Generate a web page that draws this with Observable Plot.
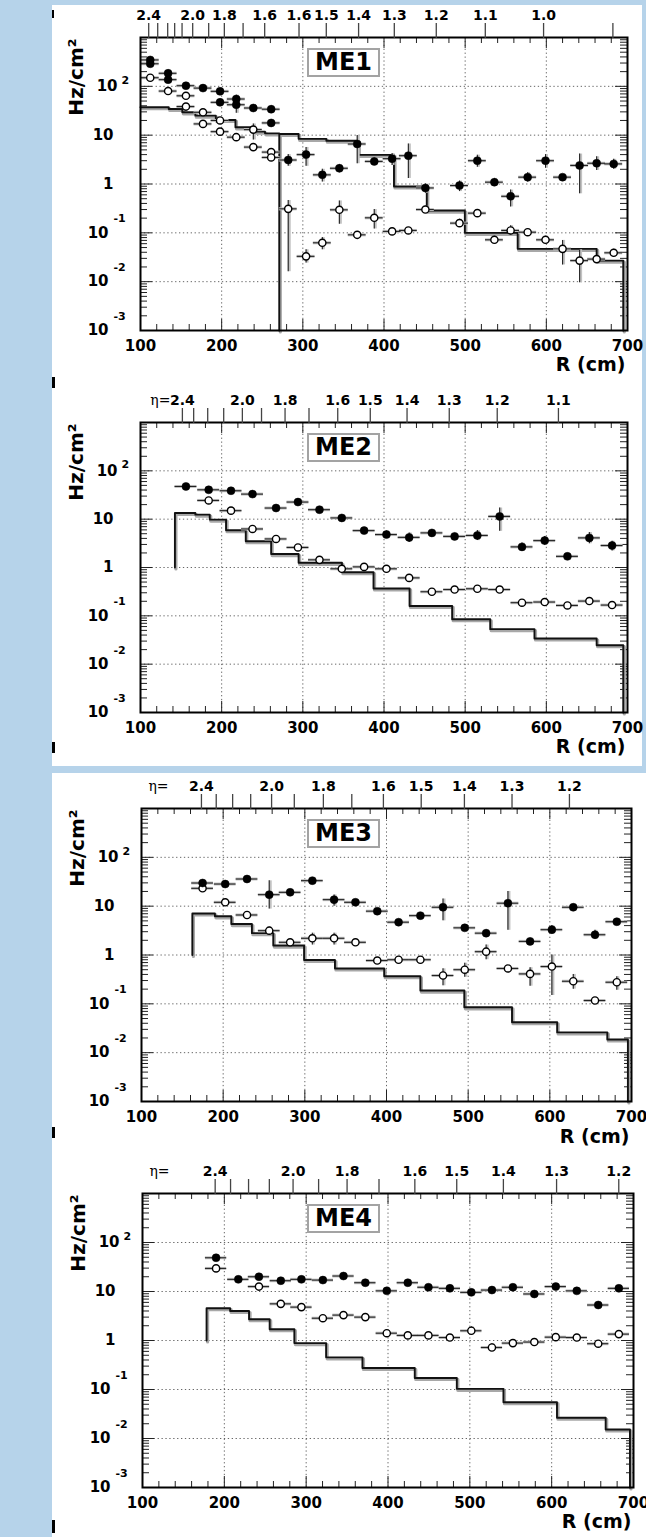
<!DOCTYPE html>
<html><head><meta charset="utf-8">
<script src="https://cdn.jsdelivr.net/npm/d3@7"></script>
<script src="https://cdn.jsdelivr.net/npm/@observablehq/plot@0.6"></script>
<style>
body{margin:0;background:#b6d3ea;}
#page{position:relative;width:646px;height:1537px;overflow:hidden;background:#b6d3ea;font-family:"DejaVu Sans",sans-serif;}
.sheet{position:absolute;background:#fff;}
.panel{position:absolute;left:52px;}
.panel svg{overflow:visible;}
.melab{position:absolute;box-sizing:border-box;border:2px solid #a3a3a3;background:#fff;font:bold 24px "DejaVu Sans",sans-serif;color:#000;text-align:center;line-height:25px;width:73px;height:29px;}
.scr{position:absolute;left:52px;background:#000;width:3px;}
</style></head>
<body><div id="page">
<div class="sheet" style="left:52px;top:5px;width:590px;height:761px"></div>
<div class="sheet" style="left:52px;top:773px;width:594px;height:764px"></div>
<div class="scr" style="top:10px;height:8px;width:2px"></div>
<div class="scr" style="top:377px;height:11px"></div>
<div class="scr" style="top:742px;height:11px"></div>
<div class="scr" style="top:1127px;height:11px"></div>
<div class="scr" style="top:1520px;height:13px"></div>
</div>
<script>
// ===================== DATA =====================
// ---- ME1 ----
const me1FilledR  = [112,112,134,134,156,177,198,198,218,218,239,261,261,282,304,324,345,367,388,410,430,451,493,515,536,556,577,599,620,641,662,683];
const me1FilledV  = [347,290,185,137,103,92,79,47,55,42,36,34,17.8,3.1,4.0,1.54,2.1,6.6,2.9,3.3,3.8,0.83,0.93,3.0,1.09,0.56,1.38,3.0,1.38,2.4,2.66,2.58];
const me1FilledLo = [300,250,160,118,92,82,70,40,28,35,30,29,15,2.3,2.3,1.1,1.7,2.6,2.5,2.4,1.3,0.65,0.7,2.2,0.9,0.34,1.1,2.1,1.25,0.63,1.9,2.0];
const me1FilledHi = [400,335,215,155,115,103,88,55,66,50,42,40,21,4.0,5.6,2.0,2.5,9.8,3.4,4.2,6.6,1.0,1.15,3.9,1.3,0.75,1.7,4.0,1.5,4.1,3.6,3.2];
const me1OpenR  = [112,134,156,156,177,177,198,198,218,239,239,261,261,282,304,324,345,367,388,410,430,451,493,515,536,556,577,599,620,641,662,683];
const me1OpenV  = [150,80,64,38.5,29.4,17,20,11.8,9.1,13,5.7,4.5,3.5,0.31,0.033,0.0625,0.296,0.091,0.203,0.107,0.112,0.30,0.158,0.253,0.072,0.112,0.103,0.072,0.047,0.027,0.029,0.039];
const me1OpenLo = [135,72,57,34,26,15,17,10.5,8,8,5,4,3.1,0.016,0.024,0.045,0.15,0.08,0.12,0.095,0.1,0.26,0.13,0.22,0.06,0.09,0.09,0.06,0.022,0.0095,0.025,0.033];
const me1OpenHi = [165,88,72,43,33,19,23,13,10.5,17,6.5,5,4,0.46,0.045,0.08,0.45,0.1,0.3,0.12,0.125,0.35,0.19,0.29,0.085,0.14,0.12,0.085,0.07,0.045,0.034,0.046];
const me1HistR = [100,134.8,151.5,167.6,192.8,217,239.3,253.4,271,271,294.8,329,368.4,412.3,452.7,499.6,564.7,662,694.8];
const me1HistV = [37.3,34.4,29.4,25.1,20.5,14.5,11.8,10.9,0.001,10.6,8.4,7.7,3.95,0.89,0.286,0.1,0.047,0.027,0.001];
const me1BinHalf = 11;
const me1EtaR   = [110.1,121.2,133.5,142.1,151.2,164.3,184,203.3,226.4,253,295.3,328.9,368.7,412.7,464.4,524.8,596.6,682];
const me1EtaLab = ["2.4","","","","","2.0","","1.8","","1.6","1.6","1.5","1.4","1.3","1.2","1.1","1.0",""];

// ---- ME2 ----
const me2FilledR  = [156,184,211.5,238,267,294,320.5,348,375.5,403,431,459,487,515,542.5,570,598,626,653,681];
const me2FilledV  = [47.5,40.5,38.7,33,17,22.6,15.7,10.6,5.8,4.8,4.2,5.2,4.4,4.6,11.4,2.67,3.6,1.7,4.1,2.85];
const me2FilledLo = [42,36,34,29,15,19.5,13.8,9.3,5.0,4.0,3.3,4.5,3.8,3.6,5.6,2.2,2.9,1.5,3.1,2.2];
const me2FilledHi = [53,45,43,37,19,26,17.8,12,6.6,5.7,5.2,6.0,5.1,5.8,17,3.2,4.4,1.9,5.3,3.5];
const me2OpenR  = [184,211.5,238,267,294,320.5,348,375.5,403,431,459,487,515,542.5,570,598,626,653,681];
const me2OpenV  = [24.4,15,6.27,3.9,2.6,1.44,0.94,1.03,0.94,0.61,0.315,0.35,0.363,0.35,0.187,0.193,0.164,0.202,0.167];
const me2OpenLo = [22,13.5,5.6,3.5,2.3,1.3,0.85,0.93,0.83,0.54,0.28,0.31,0.32,0.31,0.165,0.17,0.145,0.18,0.14];
const me2OpenHi = [27,16.5,7,4.3,2.9,1.6,1.04,1.14,1.05,0.68,0.35,0.39,0.4,0.39,0.21,0.215,0.18,0.225,0.19];
const me2HistR = [142.4,142.4,167.6,185.3,205.4,229.7,261,294.8,348.2,387.1,431.5,484,530.9,585.4,662,694.8];
const me2HistV = [1,13.4,12.4,9.8,5.9,3.5,1.9,1.25,0.8,0.369,0.16,0.085,0.053,0.034,0.0247,0.001];
const me2BinHalf = 13.5;
const me2EtaR   = [151.6,165.5,182.8,202.5,225.5,249.1,278.1,307.6,343,383.1,428.4,480.4,539.5,614.9];
const me2EtaLab = ["2.4","","","","2.0","","1.8","","1.6","1.5","1.4","1.3","1.2","1.1"];

// ---- ME3 ----
const me3FilledR  = [174.8,202.5,229.2,256.4,282,309.2,335.8,362,388.7,414.8,441.5,469.2,495.8,522,548.7,575.8,602.5,628.7,655.3,682];
const me3FilledV  = [29.8,28.4,36,17.2,19.2,33.3,13.6,12,7.9,4.7,6.4,9.5,3.6,2.8,11.5,1.9,3.3,9.5,2.6,4.8];
const me3FilledLo = [26,24,31,8.7,16.5,29,10,10.5,6.9,4.0,5.5,5.0,3.1,2.4,3.2,1.6,2.7,8,2.1,4.1];
const me3FilledHi = [34,33,41,33,22,38,17,13.7,9,5.4,7.3,14,4.2,3.3,20,2.2,4.0,11,3.2,5.5];
const me3OpenR  = [174.8,202.5,229.2,256.4,282,309.2,335.8,362,388.7,414.8,441.5,469.2,495.8,522,548.7,575.8,602.5,628.7,655.3,682];
const me3OpenV  = [23.2,12,6.6,3.15,1.82,2.2,2.2,1.82,0.77,0.8,0.8,0.38,0.5,1.17,0.53,0.41,0.58,0.29,0.117,0.277];
const me3OpenLo = [21,10.5,5.7,2.6,1.6,1.6,1.6,1.6,0.68,0.7,0.68,0.234,0.35,0.8,0.46,0.23,0.148,0.2,0.105,0.19];
const me3OpenHi = [26,13.5,7.6,3.7,2.05,2.8,2.8,2.05,0.87,0.9,0.92,0.52,0.68,1.6,0.6,0.55,1.0,0.4,0.13,0.36];
const me3HistR = [162.3,162.3,189.9,210,235.2,261.4,299.1,336.9,397.2,441.5,495.3,553.7,609,670.4,695.6];
const me3HistV = [1,7.1,6.2,4.3,2.8,1.56,0.79,0.53,0.367,0.187,0.085,0.042,0.026,0.0186,0.001];
const me3BinHalf = 13.3;
const me3EtaR   = [173.4,191.5,211.6,233.7,259.3,287.1,322.7,357.5,396.2,442.5,495.4,553.7,624];
const me3EtaLab = ["2.4","","","","2.0","","1.8","","1.6","1.5","1.4","1.3","1.2"];

// ---- ME4 ----
const me4FilledR  = [189.9,217.1,242.3,269,294.2,320.4,345.6,372.3,398.5,424.2,449.4,475.6,501.8,527,552.6,578.8,605,630.7,656.9,682.1];
const me4FilledV  = [48.8,17.7,20,16.6,17.7,17.1,20.7,15.1,10.3,15.1,12.2,11.6,9.6,10.7,12.2,8.9,12.6,10.3,5.3,11.6];
const me4FilledLo = [43,15.5,17.5,14.5,15.5,15,18,13.2,9,13.2,10.7,9.5,8.4,9.4,10.7,7.5,10.8,9,4.7,10.1];
const me4FilledHi = [55,20,23,19,20,19.5,23.5,17.2,11.8,17.2,13.9,13.5,11,12.2,13.9,10.3,14.5,11.8,6,13.2];
const me4OpenR  = [189.9,242.3,269,294.2,320.4,345.6,372.3,398.5,424.2,449.4,475.6,501.8,527,552.6,578.8,605,630.7,656.9,682.1];
const me4OpenV  = [29.6,12.6,5.6,4.8,2.85,3.3,3.0,1.41,1.27,1.27,1.15,1.58,0.72,0.885,0.93,1.17,1.15,0.86,1.35];
const me4OpenLo = [26.5,11,5.0,4.3,2.55,2.95,2.65,1.25,1.13,1.13,1.02,1.3,0.6,0.72,0.8,1.04,1.02,0.77,1.2];
const me4OpenHi = [33,14.3,6.3,5.4,3.2,3.7,3.4,1.6,1.43,1.43,1.3,1.9,0.86,1.05,1.08,1.32,1.3,0.96,1.52];
const me4HistR = [178.3,178.3,207.1,230.2,255.4,285.6,324.4,368.8,432.7,484.1,541.1,606.5,666,695.7];
const me4HistV = [1,4.56,4.0,2.72,1.7,0.885,0.453,0.275,0.172,0.103,0.055,0.0265,0.0153,0.001];
const me4BinHalf = 13;
const me4EtaR   = [188.8,207.6,229.6,255,284,315.2,350,389,432.8,484,541,606,682];
const me4EtaLab = ["2.4","","","","2.0","","1.8","","1.6","1.5","1.4","1.3","1.2"];

// ---- shared axis data ----
const xDomain = [100, 700];
const yDomain = [1e-3, 1e3];
const xLabelTicks = [100,200,300,400,500,600,700];
const xGrid = [200,300,400,500,600];
const yGrid = [1e-2,1e-1,1,10,100];
const yTickV    = [100, 10, 1, 0.1, 0.01, 0.001];
const yTickBase = ["10","10","1","10","10","10"];
const yTickExp  = ["2","","","-1","-2","-3"];
const panelNames = ["ME1","ME2","ME3","ME4"];

// ===================== LAYOUT =====================
const layout = [
  {frameTop:37,  frameBottom:330,  frameLeft:140, frameRight:627, rDy:40, eta:"none"},
  {frameTop:422, frameBottom:712,  frameLeft:140, frameRight:627, rDy:40, eta:"attached"},
  {frameTop:808, frameBottom:1101, frameLeft:141, frameRight:631, rDy:41, eta:"separate"},
  {frameTop:1193,frameBottom:1487, frameLeft:142, frameRight:633, rDy:40, eta:"separate"}
];
const series = [
  {fR:me1FilledR,fV:me1FilledV,fLo:me1FilledLo,fHi:me1FilledHi,oR:me1OpenR,oV:me1OpenV,oLo:me1OpenLo,oHi:me1OpenHi,hR:me1HistR,hV:me1HistV,half:me1BinHalf,etaR:me1EtaR,etaLab:me1EtaLab},
  {fR:me2FilledR,fV:me2FilledV,fLo:me2FilledLo,fHi:me2FilledHi,oR:me2OpenR,oV:me2OpenV,oLo:me2OpenLo,oHi:me2OpenHi,hR:me2HistR,hV:me2HistV,half:me2BinHalf,etaR:me2EtaR,etaLab:me2EtaLab},
  {fR:me3FilledR,fV:me3FilledV,fLo:me3FilledLo,fHi:me3FilledHi,oR:me3OpenR,oV:me3OpenV,oLo:me3OpenLo,oHi:me3OpenHi,hR:me3HistR,hV:me3HistV,half:me3BinHalf,etaR:me3EtaR,etaLab:me3EtaLab},
  {fR:me4FilledR,fV:me4FilledV,fLo:me4FilledLo,fHi:me4FilledHi,oR:me4OpenR,oV:me4OpenV,oLo:me4OpenLo,oHi:me4OpenHi,hR:me4HistR,hV:me4HistV,half:me4BinHalf,etaR:me4EtaR,etaLab:me4EtaLab}
];

const xMinor = d3.range(100, 701, 20).filter(d => d % 100 !== 0);
const yMinor = [];
for (let e = -3; e < 3; e++) for (let k = 2; k <= 9; k++) yMinor.push(k * Math.pow(10, e));
const yTicks = yTickV.map((v, i) => ({v, base: yTickBase[i], exp: yTickExp[i]}));

const FONT = "'DejaVu Sans', 'Liberation Sans', sans-serif";
const page = document.getElementById("page");
const SVGW = 594, mT = 40, mB = 52;

function build(idx) {
  const L = layout[idx], S = series[idx];
  const fh = L.frameBottom - L.frameTop;
  const fw = L.frameRight - L.frameLeft;
  const mL = L.frameLeft - 52, mR = (52 + SVGW) - L.frameRight;
  const filled = S.fR.map((r, i) => ({r, v: S.fV[i], lo: S.fLo[i], hi: S.fHi[i]}));
  const open = S.oR.map((r, i) => ({r, v: S.oV[i], lo: S.oLo[i], hi: S.oHi[i]}));
  const hist = S.hR.map((r, i) => ({r, v: S.hV[i]}));
  const allPts = open.concat(filled);
  const etaMap = new Map(S.etaR.map((r, i) => [r, S.etaLab[i]]));
  const half = S.half;

  const marks = [
    Plot.ruleY(yGrid, {stroke: "#555", strokeWidth: 0.9, strokeDasharray: "1.3,2.6"}),
    Plot.ruleX(xGrid, {stroke: "#555", strokeWidth: 0.9, strokeDasharray: "1.3,2.6"}),
    // inner ticks
    Plot.tickX(xMinor, {stroke: "#222", strokeWidth: 1, insetTop: fh - 6}),
    Plot.tickX(xMinor, {stroke: "#222", strokeWidth: 1, insetBottom: fh - 6}),
    Plot.tickX(xGrid, {stroke: "#222", strokeWidth: 1, insetTop: fh - 11}),
    Plot.tickX(xGrid, {stroke: "#222", strokeWidth: 1, insetBottom: fh - 11}),
    Plot.tickY(yMinor, {stroke: "#222", strokeWidth: 1, insetRight: fw - 7}),
    Plot.tickY(yMinor, {stroke: "#222", strokeWidth: 1, insetLeft: fw - 7}),
    Plot.tickY(yGrid, {stroke: "#222", strokeWidth: 1, insetRight: fw - 12}),
    Plot.tickY(yGrid, {stroke: "#222", strokeWidth: 1, insetLeft: fw - 12}),
    // histogram (prediction)
    Plot.line(hist, {x: "r", y: "v", curve: "step-after", stroke: "#a8a8a8", strokeWidth: 3.2, dx: 1, dy: 1.5}),
    Plot.line(hist, {x: "r", y: "v", curve: "step-after", stroke: "#111", strokeWidth: 1.9}),
    // error bars
    Plot.ruleY(allPts, {y: "v", x1: d => d.r - half, x2: d => d.r + half, stroke: "#c2c2c2", strokeWidth: 3}),
    Plot.ruleX(allPts, {x: "r", y1: "lo", y2: "hi", stroke: "#c2c2c2", strokeWidth: 3, dx: 1}),
    Plot.ruleY(allPts, {y: "v", x1: d => d.r - half, x2: d => d.r + half, stroke: "#222", strokeWidth: 1.1}),
    Plot.ruleX(allPts, {x: "r", y1: "lo", y2: "hi", stroke: "#222", strokeWidth: 1.1}),
    // markers
    Plot.dot(open, {x: "r", y: "v", r: 3.6, fill: "#fff", stroke: "#000", strokeWidth: 1.4}),
    Plot.dot(filled, {x: "r", y: "v", r: 4, fill: "#000", stroke: "#000", strokeWidth: 0.5}),
    Plot.frame({stroke: "#000", strokeWidth: 2}),
    // bottom R axis labels
    Plot.axisX({anchor: "bottom", ticks: xLabelTicks, tickSize: 0, tickPadding: 10, tickFormat: d => String(d), label: null, fontSize: 15, fontWeight: "bold"}),
    // top eta axis
    Plot.axisX({anchor: "top", ticks: S.etaR, tickSize: 15, tickPadding: 3, tickFormat: d => etaMap.get(d), label: null, fontSize: 14, fontWeight: "bold", stroke: "#444", strokeWidth: 1.3}),
    // y tick labels (10 with exponents)
    Plot.text(yTicks.filter(d => d.exp === ""), {y: "v", text: "base", frameAnchor: "left", textAnchor: "end", dx: -27, fontSize: 15, fontWeight: "bold"}),
    Plot.text(yTicks.filter(d => d.exp === "2"), {y: "v", text: "base", frameAnchor: "left", textAnchor: "end", dx: -23, fontSize: 15, fontWeight: "bold"}),
    Plot.text(yTicks.filter(d => d.exp === "2"), {y: "v", text: "exp", frameAnchor: "left", textAnchor: "start", dx: -19, dy: -6, fontSize: 11, fontWeight: "bold"}),
    Plot.text(yTicks.filter(d => d.exp.startsWith("-")), {y: "v", text: "base", frameAnchor: "left", textAnchor: "end", dx: -32, fontSize: 15, fontWeight: "bold"}),
    Plot.text(yTicks.filter(d => d.exp.startsWith("-")), {y: "v", text: "exp", frameAnchor: "left", textAnchor: "start", dx: -27, dy: -14, fontSize: 11, fontWeight: "bold"}),
    // axis titles
    Plot.text(["Hz/cm²"], {text: d => d, frameAnchor: "top-left", rotate: -90, textAnchor: "end", dx: -72, dy: 1, fontSize: 20, fontWeight: "bold"}),
    Plot.text(["R (cm)"], {text: d => d, frameAnchor: "bottom-right", textAnchor: "end", dx: -2, dy: L.rDy, fontSize: 19, fontWeight: "bold"})
  ];
  if (L.eta === "attached") {
    marks.push(Plot.text([S.etaR[0]], {x: d => d, text: () => "η=", frameAnchor: "top", textAnchor: "end", lineAnchor: "bottom", dx: -12, dy: -18, fontSize: 14, fontFamily: "'DejaVu Serif', serif", fontWeight: "normal"}));
  } else if (L.eta === "separate") {
    marks.push(Plot.text(["η="], {text: d => d, frameAnchor: "top-left", textAnchor: "middle", lineAnchor: "bottom", dx: 17, dy: -18, fontSize: 14, fontFamily: "'DejaVu Serif', serif", fontWeight: "normal"}));
  }

  const svg = Plot.plot({
    width: SVGW, height: mT + fh + mB,
    marginLeft: mL, marginRight: mR, marginTop: mT, marginBottom: mB,
    x: {type: "linear", domain: xDomain, label: null},
    y: {type: "log", domain: yDomain, axis: null, label: null},
    style: {fontFamily: FONT, fontWeight: "bold", color: "#000", background: "transparent", overflow: "visible"},
    marks
  });
  const div = document.createElement("div");
  div.className = "panel";
  div.style.top = (L.frameTop - mT) + "px";
  div.style.width = SVGW + "px";
  div.appendChild(svg);
  const lab = document.createElement("div");
  lab.className = "melab";
  lab.textContent = panelNames[idx];
  lab.style.left = (307 - 52) + "px";
  lab.style.top = (mT + 11) + "px";
  div.appendChild(lab);
  page.appendChild(div);
}
for (let i = 0; i < 4; i++) build(i);
</script>
</body></html>
